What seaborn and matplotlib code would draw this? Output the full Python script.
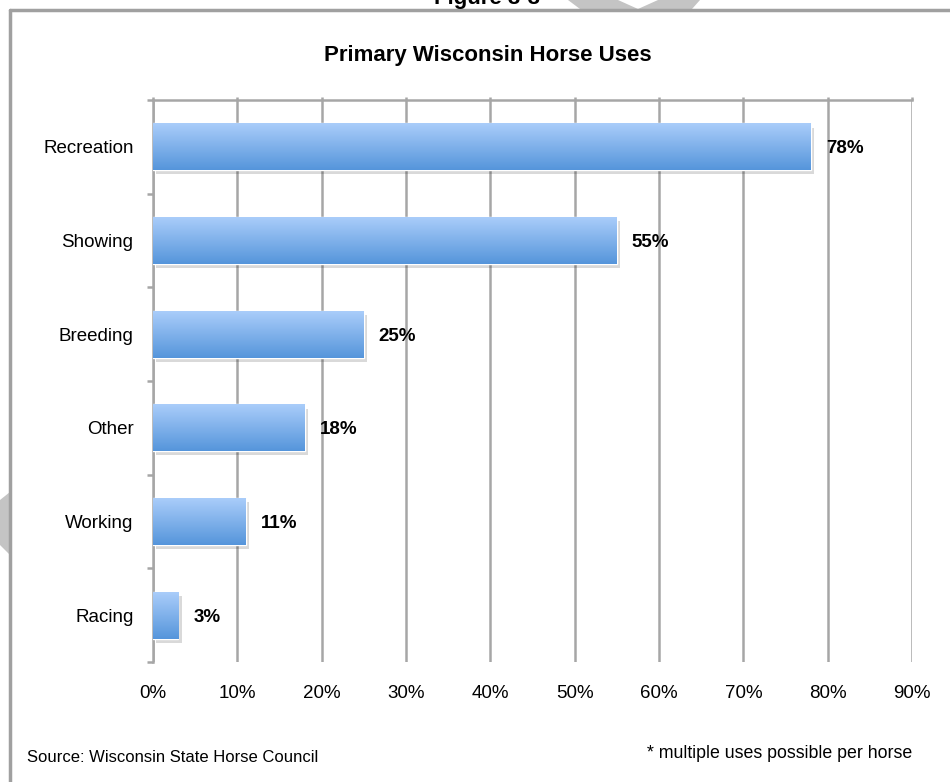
import numpy as np
import pandas as pd
import matplotlib
matplotlib.use("Agg")
import matplotlib.pyplot as plt
import seaborn as sns
from matplotlib import font_manager
from matplotlib.patches import Polygon
from matplotlib.lines import Line2D
import matplotlib.patheffects as pe
from matplotlib.colors import LinearSegmentedColormap
from matplotlib.ticker import FixedLocator

# ---- data ----
categories = ["Recreation", "Showing", "Breeding", "Other", "Working", "Racing"]
values = [78, 55, 25, 18, 11, 3]
x_ticks = [0, 10, 20, 30, 40, 50, 60, 70, 80, 90]
x_tick_labels = ["0%", "10%", "20%", "30%", "40%", "50%", "60%", "70%", "80%", "90%"]
title = "Primary Wisconsin Horse Uses"
source_text = "Source: Wisconsin State Horse Council"
note_text = "* multiple uses possible per horse"
figure_label = "Figure 3-3"

sns.set_theme(style="white")
names = {f.name for f in font_manager.fontManager.ttflist}
narrow = "Liberation Sans Narrow" in names
fam = "Liberation Sans Narrow" if narrow else "Liberation Sans"
plt.rcParams["font.family"] = [fam, "DejaVu Sans"]
k = 1.0 if not narrow else 1.15  # size factor

W, H = 950, 782
fig = plt.figure(figsize=(W / 100, H / 100), dpi=100)
fig.patch.set_facecolor("white")

def fx(x):
    return x / W

def fy(y):
    return 1 - y / H

# decorative watermark shapes
for pts in ([(568, 0), (618, 0), (638, 9), (580, 9)],
            [(658, 0), (700, 0), (692, 9), (638, 9)],
            [(0, 500), (10, 492), (10, 555), (0, 545)]):
    fig.patches.append(Polygon([(fx(a), fy(b)) for a, b in pts], closed=True,
                               transform=fig.transFigure, facecolor="#c4c4c4",
                               edgecolor="none", zorder=0))

# frame lines
frame_c = "#a0a0a0"
fig.add_artist(Line2D([fx(10), 1], [fy(10), fy(10)], color=frame_c, lw=2.5,
                      transform=fig.transFigure))
fig.add_artist(Line2D([fx(10), fx(10)], [0, fy(10)], color=frame_c, lw=2.5,
                      transform=fig.transFigure))

fig.text(fx(487), fy(4), figure_label, ha="center", va="baseline",
         fontsize=16 * k, fontweight="bold", color="black")

ax = fig.add_axes([fx(153), fy(662), (912 - 153) / W, (662 - 100) / H])
df = pd.DataFrame({"use": categories, "pct": values})
sns.barplot(data=df, x="pct", y="use", orient="h", width=0.5,
            color="#7aaee8", saturation=1, ax=ax, zorder=3)

ax.set_xlim(0, 90)
ax.set_ylim(len(categories) - 0.5, -0.5)

cmap = LinearSegmentedColormap.from_list("bar", ["#aacdfa", "#5595db"])
grad = np.linspace(0, 1, 256).reshape(-1, 1)
for p in ax.patches:
    p.set_path_effects([pe.SimplePatchShadow(offset=(2.5, -3), shadow_rgbFace="black",
                                             alpha=0.15), pe.Normal()])
    x0, y0 = p.get_x(), p.get_y()
    x1, y1 = x0 + p.get_width(), y0 + p.get_height()
    im = ax.imshow(grad, cmap=cmap, aspect="auto", origin="upper",
                   extent=(x0, x1, max(y0, y1), min(y0, y1)), zorder=3.5,
                   interpolation="bilinear")
    im.set_clip_path(p)

ax.set_xlim(0, 90)
ax.set_ylim(len(categories) - 0.5, -0.5)

grid_c = "#a6a6a6"
ax.set_xticks(x_ticks)
ax.set_xticklabels(x_tick_labels)
ax.grid(axis="x", color=grid_c, lw=1.8, zorder=0)
ax.grid(axis="y", visible=False)
ax.set_axisbelow(True)

ax.yaxis.set_minor_locator(FixedLocator(np.arange(-0.5, len(categories), 1.0)))
ax.tick_params(axis="y", which="minor", left=True, length=4, width=1.8,
               color=grid_c, direction="out")
ax.tick_params(axis="y", which="major", left=False, length=0, pad=14,
               labelsize=13.5 * k, labelcolor="black")
ax.tick_params(axis="x", which="major", bottom=False, top=True, labeltop=False,
               labelbottom=True, length=2.5, width=1.8, color=grid_c,
               direction="out", pad=14, labelsize=13.5 * k, labelcolor="black")
for lab in ax.get_yticklabels():
    lab.set_verticalalignment("center_baseline")
ax.set_xlabel("")
ax.set_ylabel("")

for s in ["right", "bottom"]:
    ax.spines[s].set_visible(False)
for s in ["top", "left"]:
    ax.spines[s].set_visible(True)
    ax.spines[s].set_color(grid_c)
    ax.spines[s].set_linewidth(1.8)

for i, v in enumerate(values):
    ax.annotate(f"{v}%", xy=(v, i), xytext=(15, 0), textcoords="offset pixels",
                ha="left", va="center_baseline", fontsize=13.5 * k, fontweight="bold",
                color="black", zorder=5)

fig.text(fx(488), fy(56), title, ha="center", va="center", fontsize=16 * k,
         fontweight="bold", color="black")
fig.text(fx(27), fy(758), source_text, ha="left", va="center", fontsize=12 * k,
         color="black")
fig.text(fx(912), fy(753), note_text, ha="right", va="center", fontsize=12.8 * k,
         color="black")

fig.savefig("out.png", dpi=100, facecolor="white")
